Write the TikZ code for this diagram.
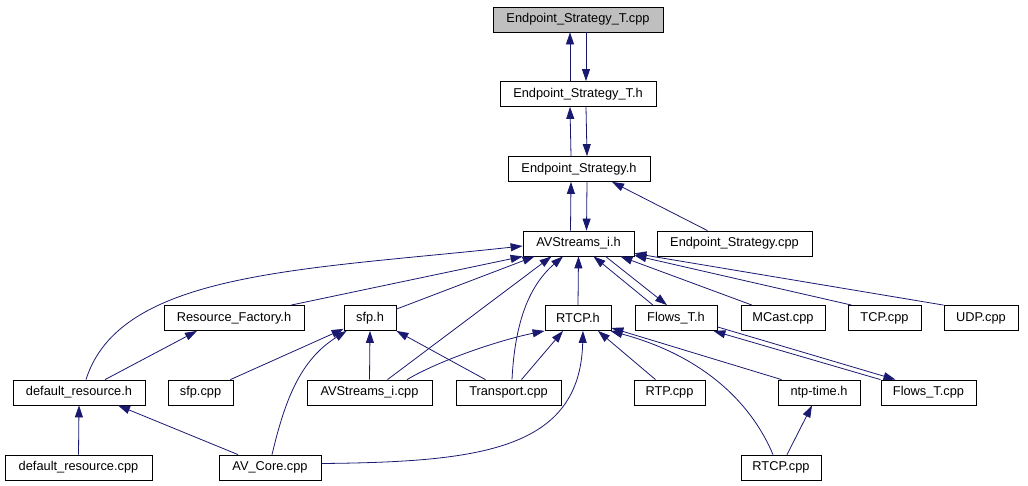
\documentclass[tikz,border=0pt]{standalone}
\usepackage{fontspec}
\setmainfont{Liberation Sans}
\usetikzlibrary{arrows.meta}
\definecolor{edgeblue}{HTML}{191970}

\begin{document}
\begin{tikzpicture}[x=1pt, y=-1pt, ->, >={Triangle[length=12pt,width=8pt]}, line width=0.8pt]
    \tikzstyle{file}=[draw=black, fill=white, text=black, minimum height=25pt, inner sep=0pt, font=\fontsize{12.8}{15}\selectfont]
    \useasboundingbox (0,0) rectangle (1028,485);

    % Top file
    \node[file, minimum width=170pt, fill=black!25] (estcpp)   at (578,19.5)    {Endpoint\_Strategy\_T.cpp};
    \node[file, minimum width=156pt]                (esth)     at (578,94)      {Endpoint\_Strategy\_T.h};
    \node[file, minimum width=142pt]                (esh)      at (579,169)     {Endpoint\_Strategy.h};
    \node[file, minimum width=111pt]                (avh)      at (578.5,243.5) {AVStreams\_i.h};
    \node[file, minimum width=155pt]                (escpp)    at (734.5,243.5) {Endpoint\_Strategy.cpp};

    % Headers and sources under AVStreams_i.h
    \node[file, minimum width=140pt]                (rfh)      at (234,318)     {Resource\_Factory.h};
    \node[file, minimum width=52pt]                 (sfph)     at (370,318)     {sfp.h};
    \node[file, minimum width=66pt]                 (rtcph)    at (578,318)     {RTCP.h};
    \node[file, minimum width=82pt]                 (flowsh)   at (676,318)     {Flows\_T.h};
    \node[file, minimum width=84pt]                 (mcast)    at (783,318)     {MCast.cpp};
    \node[file, minimum width=73pt]                 (tcp)      at (884.5,318)   {TCP.cpp};
    \node[file, minimum width=74pt]                 (udp)      at (981,318)     {UDP.cpp};

    % Third row
    \node[file, minimum width=132pt]                (drh)      at (79,392.5)    {default\_resource.h};
    \node[file, minimum width=65pt]                 (sfpcpp)   at (200.5,392.5) {sfp.cpp};
    \node[file, minimum width=125pt]                (avcpp)    at (369.5,392.5) {AVStreams\_i.cpp};
    \node[file, minimum width=105pt]                (transp)   at (508.5,392.5) {Transport.cpp};
    \node[file, minimum width=71pt]                 (rtp)      at (669.5,392.5) {RTP.cpp};
    \node[file, minimum width=82pt]                 (ntp)      at (819,392.5)   {ntp-time.h};
    \node[file, minimum width=95pt]                 (flowscpp) at (928.5,392.5) {Flows\_T.cpp};

    % Bottom row
    \node[file, minimum width=147pt]                (drcpp)    at (78.5,467.5)  {default\_resource.cpp};
    \node[file, minimum width=102pt]                (avcore)   at (270,467.5)   {AV\_Core.cpp};
    \node[file, minimum width=80pt]                 (rtcpcpp)  at (781,467.5)   {RTCP.cpp};

    \path[color=edgeblue]
        ([xshift=-8pt]esth.north)        edge ([xshift=-8pt]estcpp.south)
        ([xshift=8pt]estcpp.south)       edge ([xshift=8pt]esth.north)
        ([xshift=-8pt]esh.north)         edge ([xshift=-8pt]esth.south)
        ([xshift=8pt]esth.south)         edge ([xshift=8pt]esh.north)
        ([xshift=-8pt]avh.north)         edge ([xshift=-8pt]esh.south)
        ([xshift=8pt]esh.south)          edge ([xshift=8pt]avh.north)
        ([xshift=-27pt]escpp.north)      edge ([xshift=33pt]esh.south)

        % Into AVStreams_i.h
        ([xshift=57pt]rfh.north)         edge (avh.south west)
        ([yshift=-4pt]sfph.north east)   edge ([xshift=12pt]avh.south west)
        ([xshift=18pt]avcpp.north)       edge ([xshift=-27pt]avh.south)
        (rtcph.north)                    edge (avh.south)
        ([xshift=-23pt]flowsh.north)     edge ([xshift=15pt]avh.south)
        ([xshift=27pt]avh.south)         edge ([xshift=-9pt]flowsh.north)
        ([xshift=-31pt]mcast.north)      edge ([xshift=-14pt]avh.south east)
        ([xshift=4pt]tcp.north west)     edge ([yshift=1pt]avh.south east)
        (udp.north west)                 edge ([yshift=3pt]avh.south east)

        % Lower rows
        ([xshift=26pt]drh.north)         edge ([xshift=-37pt]rfh.south)
        ([xshift=-3pt]sfpcpp.north east) edge ([yshift=2pt]sfph.south west)
        (avcpp.north)                    edge (sfph.south)
        ([xshift=-23pt]transp.north)     edge (sfph.south east)
        ([xshift=13pt]transp.north)      edge ([xshift=-15pt]rtcph.south)
        ([xshift=-14pt]rtp.north)        edge ([xshift=20pt]rtcph.south)
        ([xshift=4pt]ntp.north west)     edge ([yshift=3pt]rtcph.south east)
        ([yshift=4pt]flowsh.south east)  edge ([xshift=-33pt]flowscpp.north)
        ([xshift=-48pt]flowscpp.north)   edge ([xshift=-4pt]flowsh.south east)
        ([xshift=6pt]rtcpcpp.north)      edge ([xshift=-7pt]ntp.south)
        (drcpp.north)                    edge (drh.south)
        ([xshift=-32pt]avcore.north)     edge ([xshift=39pt]drh.south)
    ;

    % Curved ones
    \draw[color=edgeblue] ([xshift=7pt]drh.north) .. controls (120,272) and (300,270) .. ([yshift=-2.5pt]avh.west);
    \draw[color=edgeblue] ([xshift=3.5pt]transp.north) .. controls (515,320) and (530,285) .. ([xshift=-15.5pt]avh.south);
    \draw[color=edgeblue] ([xshift=2pt]avcore.north) .. controls (285,400) and (300,360) .. ([xshift=3pt]sfph.south west);
    \draw[color=edgeblue] ([xshift=37.5pt]avcpp.north) .. controls (440,360) and (500,340) .. (rtcph.south west);
    \draw[color=edgeblue] ([yshift=4pt]avcore.east) .. controls (480,462) and (580,450) .. ([xshift=5pt]rtcph.south);
    \draw[color=edgeblue] ([xshift=-8pt]rtcpcpp.north) .. controls (750,400) and (700,355) .. ([xshift=-1pt]rtcph.south east);
\end{tikzpicture}
\end{document}
